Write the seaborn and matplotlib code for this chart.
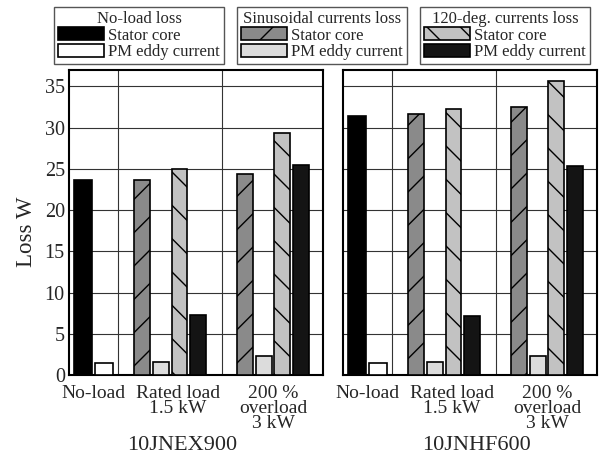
import numpy as np
import pandas as pd
import matplotlib
matplotlib.use("Agg")
import matplotlib.pyplot as plt
from matplotlib.patches import Patch
from matplotlib.colors import to_rgb
import seaborn as sns

# ---------------- data ----------------
motors = ["10JNEX900", "10JNHF600"]
conditions = ["No-load", "Rated load\n1.5 kW", "200 %\noverload\n3 kW"]
series = ["No-load stator core", "No-load PM eddy current",
          "Sinusoidal stator core", "Sinusoidal PM eddy current",
          "120-deg. stator core", "120-deg. PM eddy current"]

# values per motor [10JNEX900, 10JNHF600]
noload_stator = [23.7, 31.4]
noload_pm = [1.4, 1.4]
sin_stator_rated = [23.7, 31.7]
sin_stator_over = [24.4, 32.5]
sin_pm_rated = [1.6, 1.6]
sin_pm_over = [2.3, 2.3]
deg120_stator_rated = [25.0, 32.3]
deg120_stator_over = [29.3, 35.7]
deg120_pm_rated = [7.3, 7.2]
deg120_pm_over = [25.5, 25.4]

# ---------------- styles / layout ----------------
colors = {
    series[0]: "#000000",
    series[1]: "#ffffff",
    series[2]: "#8a8a8a",
    series[3]: "#dcdcdc",
    series[4]: "#c2c2c2",
    series[5]: "#141414",
}
hatches = {series[2]: "/", series[4]: "\\"}

NOLOAD_POS = [0.73, 1.87]
LOADED_START = [3.85, 9.28]
SLOT = 0.99
DIVIDERS = [2.61, 8.07]
XMAX = 13.4
TICK_POS = [1.30, 5.75, 10.76]

sns.set_style("white")
plt.rcParams["font.family"] = ["Liberation Serif", "DejaVu Serif"]
plt.rcParams["hatch.linewidth"] = 1.0

fig = plt.figure(figsize=(6.01, 4.54), dpi=100)
ax1 = fig.add_axes([69 / 601, 79 / 454, 254 / 601, 305 / 454])
ax2 = fig.add_axes([343 / 601, 79 / 454, 254 / 601, 305 / 454])

for m, ax in enumerate([ax1, ax2]):
    df_nl = pd.DataFrame({
        "pos": NOLOAD_POS,
        "loss": [noload_stator[m], noload_pm[m]],
        "series": series[:2],
    })
    pos_l, loss_l, ser_l = [], [], []
    rated = [sin_stator_rated[m], sin_pm_rated[m], deg120_stator_rated[m], deg120_pm_rated[m]]
    over = [sin_stator_over[m], sin_pm_over[m], deg120_stator_over[m], deg120_pm_over[m]]
    for g, vals in enumerate([rated, over]):
        for k, v in enumerate(vals):
            pos_l.append(LOADED_START[g] + k * SLOT)
            loss_l.append(v)
            ser_l.append(series[2 + k])
    df_ld = pd.DataFrame({"pos": pos_l, "loss": loss_l, "series": ser_l})

    sns.barplot(data=df_nl, x="pos", y="loss", hue="series", hue_order=series[:2],
                palette=colors, native_scale=True, dodge=False, orient="x",
                width=0.95 / (NOLOAD_POS[1] - NOLOAD_POS[0]), errorbar=None,
                saturation=1, edgecolor="black", linewidth=1.2, legend=False,
                ax=ax, zorder=3)
    sns.barplot(data=df_ld, x="pos", y="loss", hue="series", hue_order=series[2:],
                palette=colors, native_scale=True, dodge=False, orient="x",
                width=0.84 / SLOT, errorbar=None,
                saturation=1, edgecolor="black", linewidth=1.2, legend=False,
                ax=ax, zorder=3)

    for p in ax.patches:
        fc = np.array(p.get_facecolor()[:3])
        for s, h in hatches.items():
            if np.allclose(fc, to_rgb(colors[s]), atol=0.01):
                p.set_hatch(h)

    ax.set_xlim(0, XMAX)
    ax.set_ylim(0, 37)
    ax.set_yticks(np.arange(0, 36, 5))
    ax.yaxis.grid(True, color="#333333", lw=0.8)
    ax.xaxis.grid(False)
    for d in DIVIDERS:
        ax.axvline(d, color="#333333", lw=0.8, zorder=0.5)
    ax.set_axisbelow(True)
    ax.set_xticks(TICK_POS, conditions, fontsize=14, linespacing=0.85)
    ax.tick_params(axis="x", length=0, pad=7)
    ax.tick_params(axis="y", length=0, pad=3, labelsize=14.5)
    ax.set_xlabel("")
    ax.set_ylabel("")
    for sp in ax.spines.values():
        sp.set_visible(True)
        sp.set_color("black")
        sp.set_linewidth(1.5)

ax2.tick_params(axis="y", labelleft=False)
ax1.set_ylabel("Loss W", fontsize=16.5)
ax1.yaxis.set_label_coords(-0.125, 0.47)

fig.text(182 / 601, 1 - 445 / 454, motors[0], ha="center", va="center", fontsize=16)
fig.text(476 / 601, 1 - 445 / 454, motors[1], ha="center", va="center", fontsize=16)

# ---------------- legends ----------------
legend_groups = [
    ("No-load loss", series[0], series[1], 54),
    ("Sinusoidal currents loss", series[2], series[3], 237),
    ("120-deg. currents loss", series[4], series[5], 420),
]
for title, s1, s2, x0 in legend_groups:
    handles = [Patch(facecolor=colors[s1], edgecolor="black", hatch=hatches.get(s1, ""), lw=1.2),
               Patch(facecolor=colors[s2], edgecolor="black", hatch=hatches.get(s2, ""), lw=1.2)]
    leg = fig.legend(handles, ["Stator core", "PM eddy current"], title=title,
                     loc="upper left", bbox_to_anchor=(x0 / 601, 1 - 7 / 454),
                     bbox_transform=fig.transFigure, fontsize=12, title_fontsize=12,
                     frameon=True, fancybox=False, edgecolor="#555555", framealpha=1,
                     borderpad=0.25, handlelength=2.75, handleheight=0.85,
                     handletextpad=0.25, labelspacing=0.0, borderaxespad=0)
    leg.get_frame().set_linewidth(1.0)

fig.savefig("out.png", dpi=100)
